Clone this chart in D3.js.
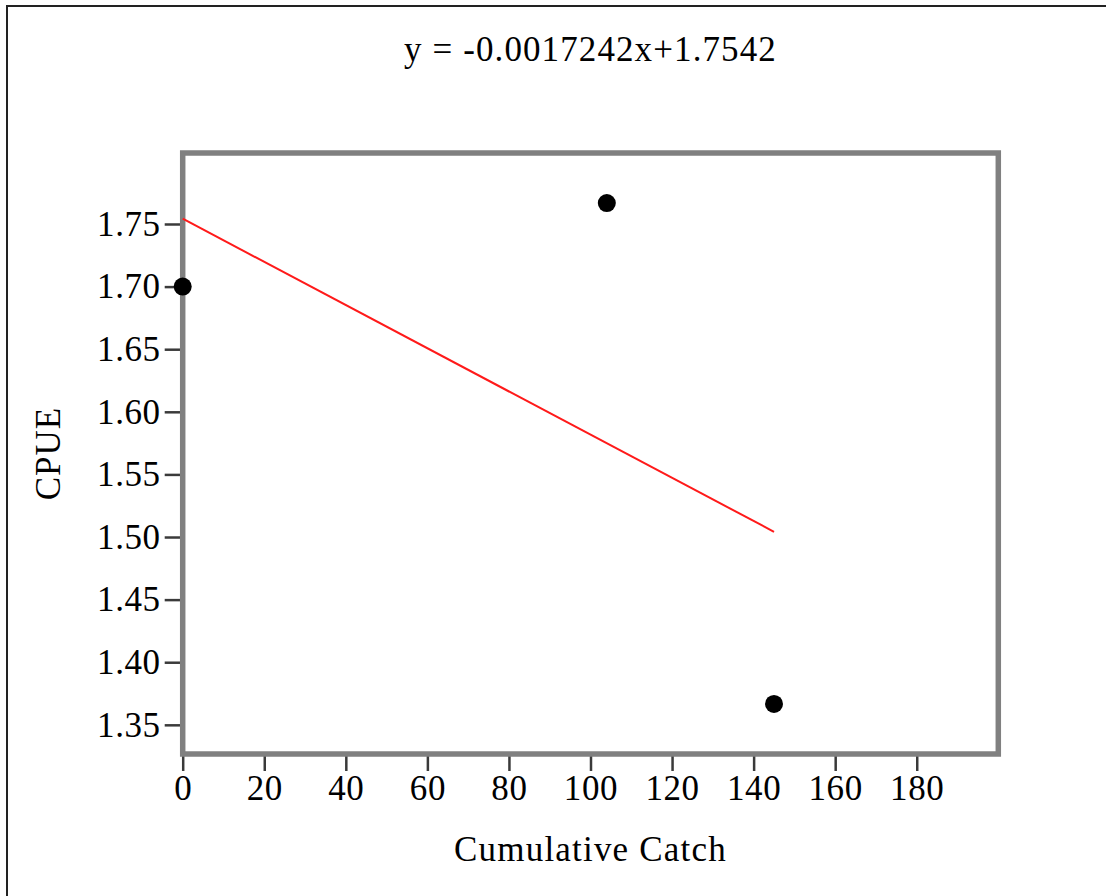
<!DOCTYPE html>
<html>
<head>
<meta charset="utf-8">
<script src="https://cdn.jsdelivr.net/npm/d3@7"></script>
<style>
  html, body { margin: 0; padding: 0; background: #fff; }
  text { font-family: "Liberation Serif", "Times New Roman", serif; fill: #000; }
</style>
</head>
<body>
<div id="chart"></div>
<script>
// datos del gráfico
const cumCatch = [0, 104, 145];
const cpue = [1.7, 1.76667, 1.36667];
const slope = -0.0017242;
const intercept = 1.7542;
const xTicks = [0, 20, 40, 60, 80, 100, 120, 140, 160, 180];
const yTicks = [1.35, 1.40, 1.45, 1.50, 1.55, 1.60, 1.65, 1.70, 1.75];
const titleText = "y = -0.0017242x+1.7542";

const width = 1106, height = 896;
const plotL = 182.7, plotR = 998.3, plotT = 153, plotB = 754;
const fontSize = 35;

const svg = d3.select("#chart").append("svg")
  .attr("width", width)
  .attr("height", height);

svg.append("rect").attr("width", width).attr("height", height).attr("fill", "#fff");

// borde exterior (solo arriba e izquierda visibles)
svg.append("rect")
  .attr("x", 7).attr("y", 6)
  .attr("width", width + 20).attr("height", height + 20)
  .attr("fill", "none")
  .attr("stroke", "#222")
  .attr("stroke-width", 2);

const x = d3.scaleLinear().domain([0, 200]).range([plotL, plotR]);
const y = d3.scaleLinear().domain([1.3267, 1.8067]).range([plotB, plotT]);

// ejes
const xAxis = svg.append("g")
  .attr("transform", `translate(0,${plotB})`)
  .call(d3.axisBottom(x).tickValues(xTicks).tickSize(17).tickPadding(4).tickFormat(d3.format("d")));
const yAxis = svg.append("g")
  .attr("transform", `translate(${plotL},0)`)
  .call(d3.axisLeft(y).tickValues(yTicks).tickSize(18).tickPadding(4).tickFormat(d3.format(".2f")));

[xAxis, yAxis].forEach(g => {
  g.select(".domain").remove();
  g.selectAll(".tick line").attr("stroke", "#3a3a3a").attr("stroke-width", 2.5);
  g.selectAll(".tick text")
    .style("font-family", '"Liberation Serif", serif')
    .style("font-size", fontSize + "px")
    .style("letter-spacing", "0.6px")
    .attr("fill", "#000");
});

// marco del área
svg.append("rect")
  .attr("x", plotL).attr("y", plotT)
  .attr("width", plotR - plotL).attr("height", plotB - plotT)
  .attr("fill", "none")
  .attr("stroke", "#808080")
  .attr("stroke-width", 5.5);

// recta de regresión
const xs = d3.extent(cumCatch);
svg.append("line")
  .attr("x1", x(xs[0])).attr("y1", y(intercept + slope * xs[0]))
  .attr("x2", x(xs[1])).attr("y2", y(intercept + slope * xs[1]))
  .attr("stroke", "#ff1a1a")
  .attr("stroke-width", 2);

// puntos
svg.append("g").selectAll("circle")
  .data(cumCatch.map((c, i) => ({ c, v: cpue[i] })))
  .enter().append("circle")
  .attr("cx", d => x(d.c))
  .attr("cy", d => y(d.v))
  .attr("r", 9)
  .attr("fill", "#000");

// textos
svg.append("text")
  .attr("x", (plotL + plotR) / 2).attr("y", 61)
  .attr("text-anchor", "middle")
  .style("font-size", fontSize + "px")
  .style("letter-spacing", "1.1px")
  .text(titleText);

svg.append("text")
  .attr("x", (plotL + plotR) / 2).attr("y", 861)
  .attr("text-anchor", "middle")
  .style("font-size", fontSize + "px")
  .style("letter-spacing", "1.2px")
  .text("Cumulative Catch");

svg.append("text")
  .attr("transform", `translate(60,${(plotT + plotB) / 2}) rotate(-90)`)
  .attr("text-anchor", "middle")
  .style("font-size", fontSize + "px")
  .style("letter-spacing", "1px")
  .text("CPUE");
</script>
</body>
</html>
